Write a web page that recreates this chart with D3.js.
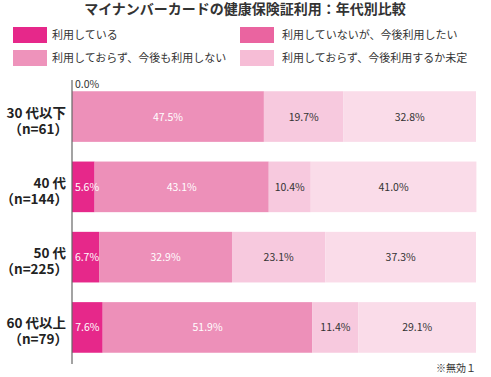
<!DOCTYPE html>
<html>
<head>
<meta charset="utf-8">
<script src="https://d3js.org/d3.v7.min.js"></script>
<style>
  body { margin: 0; background: #fff; }
  text { font-family: "Noto Sans CJK JP", "Noto Sans", sans-serif; }
</style>
</head>
<body>
<svg width="491" height="377" id="mainsvg"></svg>
<script>
  const groups = ['30 代以下', '40 代', '50 代', '60 代以上'];
  const counts = ['（n=61）', '（n=144）', '（n=225）', '（n=79）'];
  const seriesNames = ['利用している', '利用していないが、今後利用したい', '利用しておらず、今後も利用しない', '利用しておらず、今後利用するか未定'];
  const using = [0.0, 5.6, 6.7, 7.6];
  const wantTo = [47.5, 43.1, 32.9, 51.9];
  const notUse = [19.7, 10.4, 23.1, 11.4];
  const undecided = [32.8, 41.0, 37.3, 29.1];

  const barColors = ['#e6288a', '#ed90b9', '#f7c9de', '#fadce9'];
  const legendColors = ['#e6288a', '#ea64a0', '#ee93bb', '#f6bdd6'];
  const labelColors = ['#fff', '#fff', '#333', '#333'];

  const svg = d3.select('#mainsvg');
  const margin = {top: 80, left: 72, right: 15, bottom: 13};
  const innerWidth = 476 - margin.left;

  const rows = groups.map((g, i) => ({
    group: g, n: counts[i],
    vals: [using[i], wantTo[i], notUse[i], undecided[i]]
  }));

  const x = d3.scaleLinear().domain([0, 100]).range([0, innerWidth]);
  const y = d3.scaleBand().domain(groups).range([0, 284]).paddingInner(0.28).paddingOuter(0.16);

  // title
  svg.append('text').text('マイナンバーカードの健康保険証利用：年代別比較')
    .attr('x', 245).attr('y', 14).attr('text-anchor', 'middle')
    .attr('font-size', 14).attr('font-weight', 'bold').attr('fill', '#333');

  // legend, two columns
  const legendPos = [[13, 27], [240, 27], [13, 50], [240, 50]];
  seriesNames.forEach((s, i) => {
    const lg = svg.append('g').attr('transform', `translate(${legendPos[i][0]}, ${legendPos[i][1]})`);
    lg.append('rect').attr('width', 34).attr('height', 16).attr('fill', legendColors[i]);
    lg.append('text').text(s).attr('x', i % 2 === 0 ? 39 : 42).attr('y', 12)
      .attr('font-size', 11).attr('fill', '#333');
  });

  const g = svg.append('g').attr('transform', `translate(${margin.left}, ${margin.top})`);

  rows.forEach(r => {
    let acc = 0;
    const segs = r.vals.map((v, j) => { const s = {x0: acc, x1: acc + v, v, j}; acc += v; return s; });
    const row = g.append('g').attr('transform', `translate(0, ${y(r.group)})`);
    row.selectAll('rect').data(segs).join('rect')
      .attr('x', d => x(d.x0)).attr('width', d => x(d.x1) - x(d.x0))
      .attr('height', y.bandwidth()).attr('fill', d => barColors[d.j]);
    row.selectAll('text.val').data(segs.filter(d => d.v > 0)).join('text')
      .attr('class', 'val')
      .text(d => d.v.toFixed(1) + '%')
      .attr('x', d => Math.max(x((d.x0 + d.x1) / 2), x(d.x0) + 15))
      .attr('y', y.bandwidth() / 2 + 4)
      .attr('text-anchor', 'middle')
      .attr('font-size', 10.5)
      .attr('fill', d => labelColors[d.j]);
    if (r.vals[0] === 0) {
      row.append('text').text('0.0%').attr('x', 3).attr('y', -3)
        .attr('font-size', 10.5).attr('fill', '#333');
    }
    // category labels
    row.append('text').text(r.group).attr('x', -6).attr('y', y.bandwidth() / 2 + 1)
      .attr('text-anchor', 'end').attr('font-size', 13.5).attr('font-weight', 'bold').attr('fill', '#222');
    row.append('text').text(r.n).attr('x', -4).attr('y', y.bandwidth() / 2 + 17)
      .attr('text-anchor', 'end').attr('font-size', 13.5).attr('font-weight', 'bold').attr('fill', '#222');
  });

  // axis line
  g.append('line').attr('x1', 0).attr('x2', 0).attr('y1', 0).attr('y2', 284)
    .attr('stroke', '#666').attr('stroke-width', 1.2);

  svg.append('text').text('※無効１').attr('x', 476).attr('y', 372)
    .attr('text-anchor', 'end').attr('font-size', 10).attr('fill', '#333');
</script>
</body>
</html>
